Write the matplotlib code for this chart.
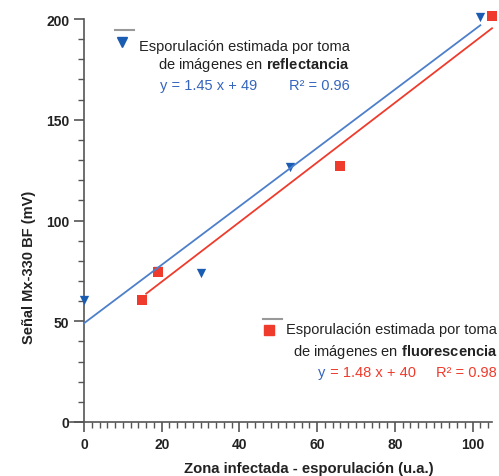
import matplotlib
matplotlib.use("Agg")
import matplotlib.pyplot as plt
import numpy as np

plt.rcParams['font.family'] = ['Liberation Sans', 'DejaVu Sans']
plt.rcParams['mathtext.fontset'] = 'custom'
plt.rcParams['mathtext.rm'] = 'Liberation Sans'
plt.rcParams['mathtext.bf'] = 'Liberation Sans:bold'

# Data
refl_x = [0, 19, 30, 53, 102]
refl_y = [60.5, 75, 74, 126.5, 201]
fluo_x = [15, 19, 66, 105]
fluo_y = [60.5, 74.5, 127, 201.5]
refl_fit = (1.45, 49)
fluo_fit = (1.48, 40)
refl_range = [0, 102]
fluo_range = [16, 105]

BLUE_M = '#1b5cb3'
BLUE_L = '#4d7fcb'
BLUE_T = '#3565bd'
RED = '#ef3b2c'

W, H = 499, 477
fig = plt.figure(figsize=(W/100, H/100), dpi=100)
ax = fig.add_axes([84/W, 1-423/H, (492-84)/W, (423-20)/H])

ax.scatter(refl_x, refl_y, marker='v', s=45, color=BLUE_M, zorder=3, clip_on=False, linewidths=0)
ax.scatter(fluo_x, fluo_y, marker='s', s=42, color=RED, zorder=3.5, clip_on=False, linewidths=0)

xr = np.array(refl_range, dtype=float)
ax.plot(xr, refl_fit[0]*xr + refl_fit[1], color=BLUE_L, lw=1.3, clip_on=False, zorder=4)
xf = np.array(fluo_range, dtype=float)
ax.plot(xf, fluo_fit[0]*xf + fluo_fit[1], color=RED, lw=1.3, clip_on=False, zorder=4)

ax.set_xlim(0, 105)
ax.set_ylim(0, 200)
for s in ['top', 'right']:
    ax.spines[s].set_visible(False)
for s in ['left', 'bottom']:
    ax.spines[s].set_color('#555555')
    ax.spines[s].set_linewidth(1.2)
ax.spines['bottom'].set_bounds(-3.5, 105)

ax.set_xticks([0, 20, 40, 60, 80, 100])
ax.set_xticks(np.arange(0, 105, 2), minor=True)
ax.set_yticks([0, 50, 100, 150, 200])
ax.set_yticks(np.arange(0, 201, 10), minor=True)
ax.tick_params(axis='both', which='major', length=7, width=1.2, color='#555555', labelsize=10)
ax.tick_params(axis='both', which='minor', length=4, width=1.0, color='#555555')
for lab in ax.get_xticklabels() + ax.get_yticklabels():
    lab.set_fontweight('bold')
    lab.set_color('#222222')

ax.set_xlabel('Zona infectada - esporulación (u.a.)', fontsize=10.7, fontweight='bold', color='#222222')
ax.set_ylabel('Señal Mx-330 BF (mV)', fontsize=10.5, fontweight='bold', color='#222222')
ax.xaxis.set_label_coords((309-84)/408, (423-462)/403)
ax.yaxis.set_label_coords((36-84)/408, (423-267)/403)

def ft(x, y, s, **kw):
    fig.text(x/W, 1-y/H, s, **kw)

fs = 10.5
# Reflectance legend
fig.add_artist(plt.Line2D([115/W, 134/W], [1-31/H, 1-31/H], color='#999999', lw=1.5))
fig.add_artist(plt.Line2D([122/W], [1-43/H], marker='v', color=BLUE_M, markersize=7, lw=0))
ft(350, 47, 'Esporulación estimada por toma', ha='right', va='center', fontsize=fs, color='#222222')
ft(350, 65, 'de imágenes en $\\bf{reflectancia}$', ha='right', va='center', fontsize=fs, color='#222222')
ft(160, 86, 'y = %.2f x + %d' % refl_fit, ha='left', va='center', fontsize=fs, color=BLUE_T)
ft(350, 86, 'R² = 0.96', ha='right', va='center', fontsize=fs, color=BLUE_T)

# Fluorescence legend
fig.add_artist(plt.Line2D([263/W, 282/W], [1-320/H, 1-320/H], color='#999999', lw=1.5))
fig.add_artist(plt.Line2D([269/W], [1-331/H], marker='s', color=RED, markersize=7, lw=0))
ft(497, 330, 'Esporulación estimada por toma', ha='right', va='center', fontsize=fs, color='#222222')
ft(497, 352, 'de imágenes en $\\bf{fluorescencia}$', ha='right', va='center', fontsize=fs, color='#222222')
ft(318, 373, 'y', ha='left', va='center', fontsize=fs, color=BLUE_T)
ft(326, 373, ' = %.2f x + %d' % fluo_fit, ha='left', va='center', fontsize=fs, color=RED)
ft(497, 373, 'R² = 0.98', ha='right', va='center', fontsize=fs, color=RED)

fig.savefig('out.png', dpi=100)
